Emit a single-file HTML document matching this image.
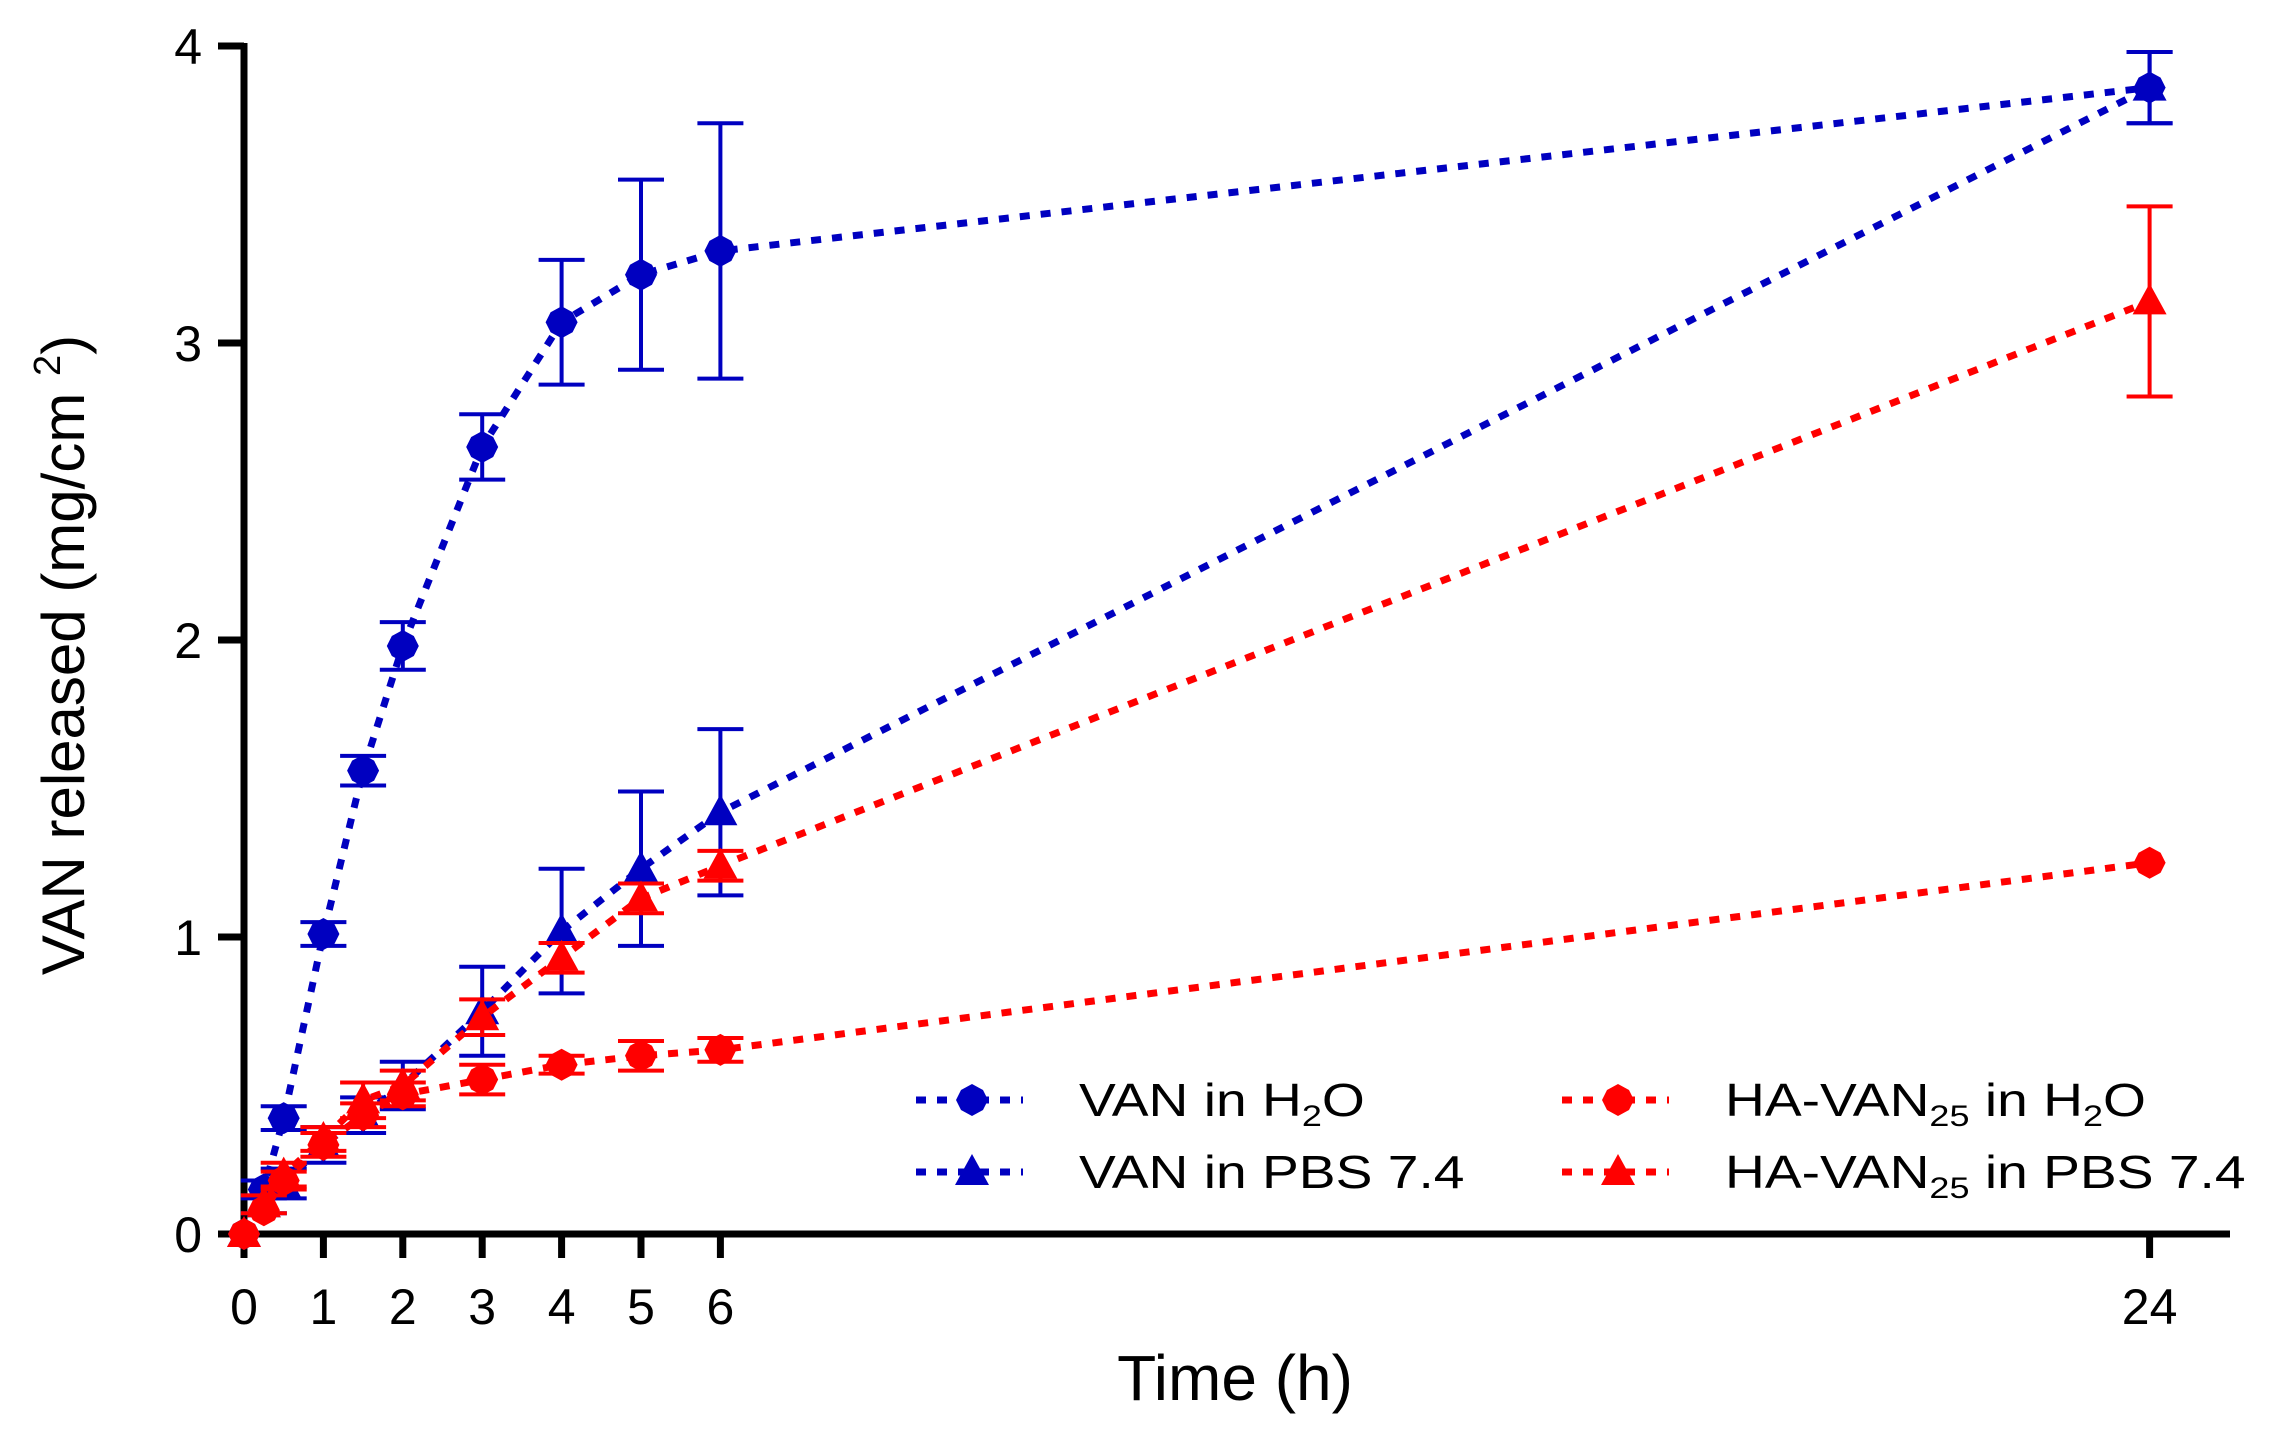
<!DOCTYPE html>
<html><head><meta charset="utf-8"><style>
html,body{margin:0;padding:0;background:#fff;}
svg{display:block;font-family:"Liberation Sans",Arial,sans-serif;}
</style></head><body>
<svg id="chart" width="2269" height="1433" viewBox="0 0 2269 1433" xmlns="http://www.w3.org/2000/svg">
<g id="axes"></g>
<g id="series"></g>
<g id="legend"></g>
<text x="1235" y="1400" font-size="64" text-anchor="middle" fill="#000">Time (h)</text>
<text transform="translate(84,655) rotate(-90)" font-size="60" text-anchor="middle" fill="#000">VAN released (mg/cm <tspan font-size="38" dy="-24">2</tspan><tspan dy="24">)</tspan></text>
</svg>
<script>
const times = [0, 0.25, 0.5, 1, 1.5, 2, 3, 4, 5, 6, 24];
const vanH2O = [0, 0.15, 0.39, 1.01, 1.56, 1.98, 2.65, 3.07, 3.23, 3.31, 3.86];
const vanH2OErr = [0, 0.03, 0.04, 0.04, 0.05, 0.08, 0.11, 0.21, 0.32, 0.43, 0.12];
const vanPBS = [0, 0.1, 0.17, 0.3, 0.4, 0.5, 0.75, 1.02, 1.23, 1.42, 3.86];
const vanPBSErr = [0, 0.03, 0.05, 0.06, 0.06, 0.08, 0.15, 0.21, 0.26, 0.28, 0.12];
const haH2O = [0, 0.08, 0.18, 0.3, 0.4, 0.47, 0.52, 0.57, 0.6, 0.62, 1.25];
const haH2OErr = [0, 0.02, 0.03, 0.04, 0.04, 0.04, 0.05, 0.03, 0.05, 0.04, 0.02];
const haPBS = [0, 0.1, 0.2, 0.32, 0.45, 0.5, 0.73, 0.93, 1.13, 1.24, 3.14];
const haPBSErr = [0, 0.03, 0.04, 0.04, 0.06, 0.05, 0.06, 0.05, 0.05, 0.05, 0.32];
const xTicks = [0, 1, 2, 3, 4, 5, 6, 24];
const yTicks = [0, 1, 2, 3, 4];
const seriesNames = ["VAN in H2O", "VAN in PBS 7.4", "HA-VAN25 in H2O", "HA-VAN25 in PBS 7.4"];

const NS = "http://www.w3.org/2000/svg";
const X0 = 244, XS = 79.4, Y0 = 1234, YS = 297;
function xs(t){ return X0 + t * XS; }
function ys(v){ return Y0 - v * YS; }
function mk(tag, attrs, parent){ const e = document.createElementNS(NS, tag); for (const k in attrs) e.setAttribute(k, attrs[k]); parent.appendChild(e); return e; }

const axes = document.getElementById('axes');
let yl = mk('line', {x1: X0, y1: ys(4)-3, x2: X0, y2: Y0+3, stroke: '#000', 'stroke-width': 7}, axes);


let xl = mk('line', {x1: X0-3, y1: Y0, x2: 2230, y2: Y0, stroke: '#000', 'stroke-width': 7}, axes);


yTicks.forEach(v => {
  const tk = mk('line', {x1: X0-26, y1: ys(v), x2: X0, y2: ys(v), stroke: '#000', 'stroke-width': 7}, axes);
  
  
  const tx = mk('text', {x: X0-42, y: ys(v)+18, 'font-size': 50, 'text-anchor': 'end', fill: '#000'}, axes);
  tx.textContent = v;
  
  
});
xTicks.forEach(t => {
  const tk = mk('line', {x1: xs(t), y1: Y0, x2: xs(t), y2: Y0+24, stroke: '#000', 'stroke-width': 7}, axes);
  
  
  const tx = mk('text', {x: xs(t), y: Y0+90, 'font-size': 50, 'text-anchor': 'middle', fill: '#000'}, axes);
  tx.textContent = t;
  
  
});

function marker(shape, cx, cy, color, parent){
  let m;
  if (shape === 'circle') m = mk('path', {d: `M${cx} ${cy-16} L${cx+11} ${cy-10} L${cx+16} ${cy} L${cx+11} ${cy+10} L${cx} ${cy+16} L${cx-11} ${cy+10} L${cx-16} ${cy} L${cx-11} ${cy-10}Z`, fill: color}, parent);
  else m = mk('path', {d: `M${cx} ${cy-18} L${cx+17} ${cy+13} L${cx-17} ${cy+13}Z`, fill: color}, parent);
  return m;
}

const sgroup = document.getElementById('series');
const defs = [
  [vanH2O, vanH2OErr, '#0000c0', 'circle', 'van-h2o'],
  [vanPBS, vanPBSErr, '#0000c0', 'triangle', 'van-pbs'],
  [haH2O, haH2OErr, '#ff0000', 'circle', 'ha-van-h2o'],
  [haPBS, haPBSErr, '#ff0000', 'triangle', 'ha-van-pbs']
];
defs.forEach(([vals, errs, col, shape, nm]) => {
  const g = mk('g', {}, sgroup);
  
  
  const pts = times.map((t, i) => xs(t) + ',' + ys(vals[i])).join(' ');
  const ln = mk('polyline', {points: pts, fill: 'none', stroke: col, 'stroke-width': 7, 'stroke-dasharray': '10 11'}, g);
  
  
  times.forEach((t, i) => {
    const e = errs[i];
    if (e > 0.02) {
      const eb = mk('path', {d: `M${xs(t)} ${ys(vals[i]+e)} V${ys(vals[i]-e)} M${xs(t)-23} ${ys(vals[i]+e)} H${xs(t)+23} M${xs(t)-23} ${ys(vals[i]-e)} H${xs(t)+23}`, stroke: col, 'stroke-width': 4, fill: 'none'}, g);
      
      
    }
    const m = marker(shape, xs(t), ys(vals[i]), col, g);
    
    
  });
});

const lg = document.getElementById('legend');
const legPos = [[916, 1100], [916, 1172], [1562, 1100], [1562, 1172]];
const legLabels = [
  'VAN in H<tspan font-size="30" dy="10">2</tspan><tspan dy="-10">O</tspan>',
  'VAN in PBS 7.4',
  'HA-VAN<tspan font-size="30" dy="10">25</tspan><tspan dy="-10"> in H</tspan><tspan font-size="30" dy="10">2</tspan><tspan dy="-10">O</tspan>',
  'HA-VAN<tspan font-size="30" dy="10">25</tspan><tspan dy="-10"> in PBS 7.4</tspan>'
];
defs.forEach(([v, e, col, shape, nm], i) => {
  const [lx, ly] = legPos[i];
  const g = mk('g', {}, lg);
  
  
  mk('line', {x1: lx, y1: ly, x2: lx+107, y2: ly, stroke: col, 'stroke-width': 7, 'stroke-dasharray': '10 11'}, g);
  marker(shape, lx+56, ly, col, g);
  const t = mk('text', {x: 0, y: 0, 'font-size': 46, fill: '#000', transform: `translate(${lx+163},${ly+16}) scale(1.2,1)`}, g);
  t.innerHTML = legLabels[i];
});
</script>
</body></html>
